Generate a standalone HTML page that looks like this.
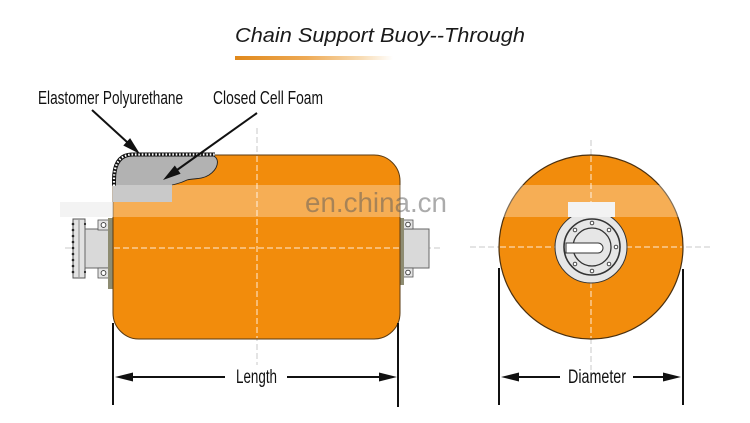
<!DOCTYPE html>
<html>
<head>
<meta charset="utf-8">
<style>
  html,body{margin:0;padding:0;background:#fff;}
  svg{display:block;}
  text{font-family:"Liberation Sans",Arial,sans-serif;}
</style>
</head>
<body>
<svg width="750" height="423" viewBox="0 0 750 423" xmlns="http://www.w3.org/2000/svg">
  <defs>
    <linearGradient id="ul" x1="0" y1="0" x2="1" y2="0">
      <stop offset="0" stop-color="#e0881a"/>
      <stop offset="0.45" stop-color="#eeaa55"/>
      <stop offset="0.8" stop-color="#f8dcb4"/>
      <stop offset="1" stop-color="#ffffff"/>
    </linearGradient>
  </defs>
  <rect width="750" height="423" fill="#fff"/>

  <!-- Title -->
  <text x="235" y="42" font-size="20" font-style="italic" fill="#1a1a1a" textLength="290" lengthAdjust="spacingAndGlyphs">Chain Support Buoy--Through</text>
  <rect x="235" y="56" width="158" height="4" fill="url(#ul)"/>

  <!-- Labels -->
  <text x="38" y="104" font-size="18" fill="#111" textLength="145" lengthAdjust="spacingAndGlyphs">Elastomer Polyurethane</text>
  <text x="213" y="104" font-size="18" fill="#111" textLength="110" lengthAdjust="spacingAndGlyphs">Closed Cell Foam</text>

  <!-- dashed center lines (outside parts grey) -->
  <g stroke="#c8c8c8" stroke-width="1" stroke-dasharray="6 3" fill="none">
    <line x1="65" y1="248" x2="440" y2="248"/>
    <line x1="257" y1="128" x2="257" y2="365"/>
    <line x1="470" y1="247" x2="710" y2="247"/>
    <line x1="591" y1="140" x2="591" y2="370"/>
  </g>

  <!-- Left fitting -->
  <rect x="73" y="219" width="12" height="59" fill="#e2e2e2" stroke="#555" stroke-width="1"/>
  <line x1="79" y1="220" x2="79" y2="277" stroke="#777" stroke-width="0.8"/>
  <g fill="#222">
    <circle cx="73" cy="224" r="1.3"/><circle cx="73" cy="230" r="1.3"/><circle cx="73" cy="236" r="1.3"/>
    <circle cx="73" cy="242" r="1.3"/><circle cx="73" cy="248" r="1.3"/><circle cx="73" cy="254" r="1.3"/>
    <circle cx="73" cy="260" r="1.3"/><circle cx="73" cy="266" r="1.3"/><circle cx="73" cy="272" r="1.3"/>
    <circle cx="85" cy="224" r="1.1"/><circle cx="85" cy="272" r="1.1"/>
  </g>
  <rect x="85" y="229" width="24" height="39" fill="#d9d9d9" stroke="#666" stroke-width="1"/>
  <rect x="98" y="220" width="11" height="10" fill="#e4e4e4" stroke="#555" stroke-width="0.8"/>
  <circle cx="103.5" cy="225" r="2.4" fill="#fff" stroke="#333" stroke-width="0.9"/>
  <rect x="98" y="268" width="11" height="10" fill="#e4e4e4" stroke="#555" stroke-width="0.8"/>
  <circle cx="103.5" cy="273" r="2.4" fill="#fff" stroke="#333" stroke-width="0.9"/>
  <rect x="108" y="218" width="5" height="71" fill="#8e8c72"/>

  <!-- Right fitting -->
  <rect x="403" y="229" width="26" height="39" fill="#d9d9d9" stroke="#666" stroke-width="1"/>
  <rect x="403" y="220" width="10" height="9" fill="#e4e4e4" stroke="#555" stroke-width="0.8"/>
  <circle cx="408" cy="224.5" r="2.3" fill="#fff" stroke="#333" stroke-width="0.9"/>
  <rect x="403" y="268" width="10" height="9" fill="#e4e4e4" stroke="#555" stroke-width="0.8"/>
  <circle cx="408" cy="272.5" r="2.3" fill="#fff" stroke="#333" stroke-width="0.9"/>
  <rect x="399" y="218" width="5" height="67" fill="#8e8c72"/>

  <!-- Body -->
  <rect x="113" y="155" width="287" height="184" rx="26" ry="26" fill="#f28c0c" stroke="#5a3a12" stroke-width="1"/>
  <g stroke="#ffffff" stroke-width="1" stroke-dasharray="6 3" opacity="0.85">
    <line x1="114" y1="248" x2="399" y2="248"/>
    <line x1="257" y1="156" x2="257" y2="338"/>
  </g>

  <!-- Foam cutaway -->
  <path d="M113,202 L113,180 Q113,157 132,156 L214,156 C220,160 218,169 209,175 C201,180 194,178 187,180 C183,182 180,183 176,184 L172,185 L172,202 Z" fill="#b2b2b2"/>
  <path d="M214,156 C220,160 218,169 209,175 C201,180 194,178 187,180 C183,182 180,183 176,184 L172,185" fill="none" stroke="#222" stroke-width="0.9"/>
  <!-- hatched elastomer layer -->
  <path d="M114,186 L114,180 Q114,155 132,154.5 L215,154.5" fill="none" stroke="#111" stroke-width="4"/>
  <path d="M114,186 L114,180 Q114,155 132,154.5 L215,154.5" fill="none" stroke="#fff" stroke-width="2.2" stroke-dasharray="1.6 1.8"/>

  <!-- Label arrows -->
  <line x1="92" y1="110" x2="127" y2="142" stroke="#111" stroke-width="2"/>
  <polygon points="140,154 123.3,145.5 130.1,138.1" fill="#111"/>
  <line x1="257" y1="113" x2="177" y2="170" stroke="#111" stroke-width="2"/>
  <polygon points="163,180 180.6,173.7 174.8,165.5" fill="#111"/>

  <!-- End view circle -->
  <circle cx="591" cy="247" r="92" fill="#f28c0c" stroke="#4a3010" stroke-width="1.2"/>
  <g stroke="#ffffff" stroke-width="1" stroke-dasharray="6 3" opacity="0.85">
    <line x1="500" y1="247" x2="682" y2="247"/>
    <line x1="591" y1="156" x2="591" y2="338"/>
  </g>
  <circle cx="591" cy="247" r="36" fill="#e6e6e6" stroke="#333" stroke-width="1"/>
  <circle cx="592" cy="247" r="28" fill="none" stroke="#333" stroke-width="1.6"/>
  <circle cx="592" cy="247" r="19" fill="none" stroke="#333" stroke-width="1.3"/>
  <path d="M566,243 L598,243 A5,5 0 0 1 598,253 L566,253 Z" fill="#fff" stroke="#333" stroke-width="1"/>
  <g fill="#fff" stroke="#333" stroke-width="0.9">
    <circle cx="616" cy="247" r="1.8"/>
    <circle cx="609" cy="230" r="1.8"/>
    <circle cx="592" cy="223" r="1.8"/>
    <circle cx="575" cy="230" r="1.8"/>
    <circle cx="575" cy="264" r="1.8"/>
    <circle cx="592" cy="271" r="1.8"/>
    <circle cx="609" cy="264" r="1.8"/>
  </g>

  <!-- Watermark band -->
  <rect x="60" y="185" width="650" height="32" fill="#ffffff" opacity="0.3"/>
  <rect x="60" y="202" width="53" height="15" fill="#e8e8e8" opacity="0.5"/>
  <rect x="568" y="202" width="47" height="15" fill="#f3f3f3"/>
  <text x="305" y="212" font-size="28" fill="#5a5a5a" opacity="0.5" textLength="142" lengthAdjust="spacingAndGlyphs">en.china.cn</text>

  <!-- Length dimension -->
  <g stroke="#111" stroke-width="2" fill="none">
    <line x1="113" y1="323" x2="113" y2="405"/>
    <line x1="398" y1="323" x2="398" y2="407"/>
    <line x1="131" y1="377" x2="225" y2="377"/>
    <line x1="287" y1="377" x2="381" y2="377"/>
  </g>
  <polygon points="115,377 133,372.5 133,381.5" fill="#111"/>
  <polygon points="397,377 379,372.5 379,381.5" fill="#111"/>
  <text x="236" y="383" font-size="19" fill="#111" textLength="41" lengthAdjust="spacingAndGlyphs">Length</text>

  <!-- Diameter dimension -->
  <g stroke="#111" stroke-width="2" fill="none">
    <line x1="499" y1="268" x2="499" y2="405"/>
    <line x1="683" y1="269" x2="683" y2="405"/>
    <line x1="517" y1="377" x2="560" y2="377"/>
    <line x1="633" y1="377" x2="665" y2="377"/>
  </g>
  <polygon points="501,377 519,372.5 519,381.5" fill="#111"/>
  <polygon points="681,377 663,372.5 663,381.5" fill="#111"/>
  <text x="568" y="383" font-size="19" fill="#111" textLength="58" lengthAdjust="spacingAndGlyphs">Diameter</text>
</svg>
</body>
</html>
